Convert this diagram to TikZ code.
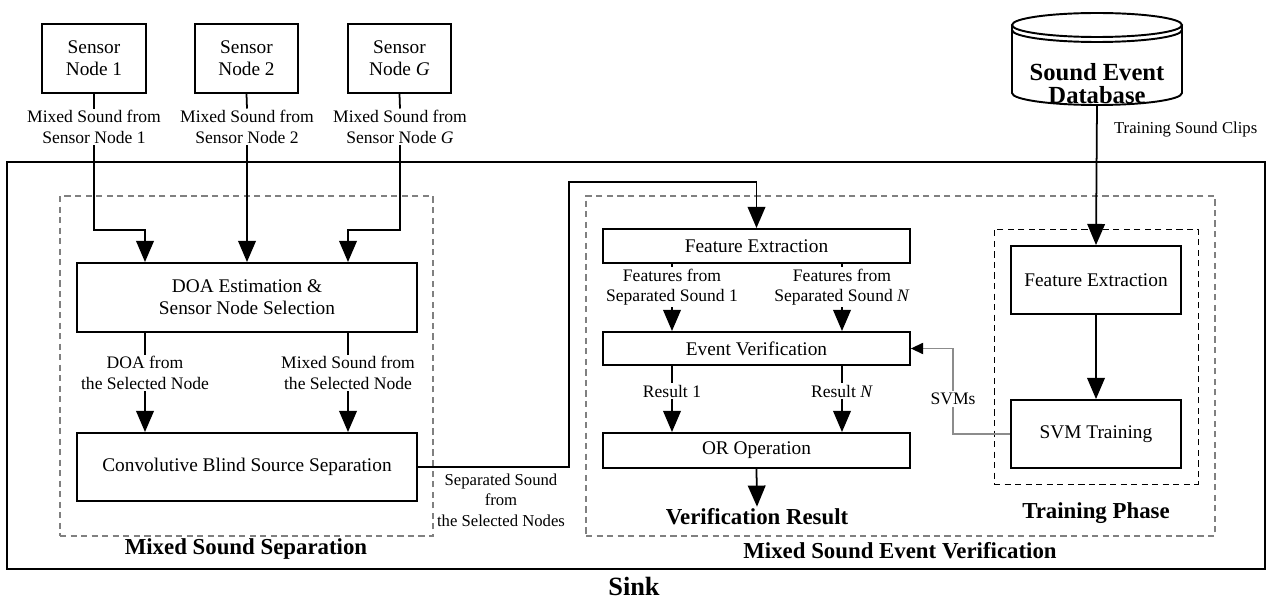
\documentclass[tikz,border=0pt]{standalone}
\usepackage{fontspec}
\setmainfont{Liberation Serif}
\usetikzlibrary{arrows.meta}

\definecolor{GroupGrey}{HTML}{808080}
\definecolor{LinkGrey}{HTML}{8c8c8c}

\newcommand{\blockfont}{\fontsize{11}{12.5}\selectfont}
\newcommand{\flowfont}{\fontsize{10}{11.5}\selectfont}
\newcommand{\titlefont}{\fontsize{13}{15}\selectfont\bfseries}

\tikzstyle{block}=[draw, line width=1.1pt, align=center, inner sep=0pt, font=\blockfont]
\tikzstyle{group-box}=[draw=GroupGrey, line width=0.8pt, dash pattern=on 3.5pt off 2.5pt, inner sep=0pt]
\tikzstyle{phase-box}=[draw, line width=0.5pt, dash pattern=on 3.5pt off 2.5pt, inner sep=0pt]
\tikzstyle{flow-label}=[align=center, inner sep=1pt, font=\flowfont]
\tikzstyle{group-title}=[inner sep=1pt, font=\titlefont]
\tikzstyle{wire}=[line width=1pt]
\tikzstyle{flow}=[line width=1pt, -{Triangle[length=12pt, width=10pt]}]
\tikzstyle{svm-flow}=[draw=LinkGrey, line width=0.6pt]

\begin{document}
\begin{tikzpicture}[x=0.02cm, y=-0.02cm]
      \useasboundingbox (0,0) rectangle (1269,601);

      % frames
      \node (sink) at (636, 365.5)
            [draw, line width=1.5pt, minimum width=25.16cm, minimum height=8.14cm] {};
      \node (group-sep) at (246.5, 366)
            [group-box, minimum width=7.46cm, minimum height=6.8cm] {};
      \node (group-ver) at (900.5, 366)
            [group-box, minimum width=12.58cm, minimum height=6.8cm] {};
      \node (group-train) at (1096, 356.5)
            [phase-box, minimum width=4.08cm, minimum height=5.1cm] {};

      \node (title-sink) at (634, 586) [group-title, font=\fontsize{15}{17}\selectfont\bfseries] {Sink};
      \node (title-sep) at (246, 549) [group-title] {Mixed Sound Separation};
      \node (title-ver) at (900, 551) [group-title] {Mixed Sound Event Verification};
      \node (title-train) at (1096, 513) [group-title] {Training Phase};
      \node (title-result) at (757, 517) [group-title] {Verification Result};

      % sensor nodes
      \node (sensor-1) at (94, 58.5)
            [block, minimum width=2.08cm, minimum height=1.38cm] {Sensor\\Node 1};
      \node (sensor-2) at (246.5, 58.5)
            [block, minimum width=2.06cm, minimum height=1.38cm] {Sensor\\Node 2};
      \node (sensor-G) at (399.5, 58.5)
            [block, minimum width=2.06cm, minimum height=1.38cm] {Sensor\\Node \textit{G}};

      \node (mix-1) at (94, 127) [flow-label] {Mixed Sound from\\Sensor Node 1};
      \node (mix-2) at (247, 127) [flow-label] {Mixed Sound from\\Sensor Node 2};
      \node (mix-G) at (400, 127) [flow-label] {Mixed Sound from\\Sensor Node \textit{G}};

      % sound event database
      \draw [line width=1.1pt] (1012, 25) -- (1012, 93)
            arc [start angle=180, end angle=360, x radius=1.7cm, y radius=0.24cm] -- (1182, 25);
      \draw [line width=1.1pt] (1097, 25) ellipse [x radius=1.7cm, y radius=0.24cm];
      \draw [line width=1.1pt] (1012, 30)
            arc [start angle=180, end angle=360, x radius=1.7cm, y radius=0.24cm];
      \node (db) at (1097, 84) [align=center, inner sep=0pt, font=\fontsize{14}{13}\selectfont\bfseries] {Sound Event\\Database};
      \coordinate (db-base) at (1097, 105);
      \node (clips) at (1112, 130) [flow-label, anchor=west, font=\fontsize{9.5}{11}\selectfont] {Training Sound Clips};

      % mixed sound separation
      \node (doa) at (247, 297.5)
            [block, minimum width=6.8cm, minimum height=1.38cm] {DOA Estimation \&\\Sensor Node Selection};
      \node (conv) at (247, 467)
            [block, minimum width=6.8cm, minimum height=1.36cm] {Convolutive Blind Source Separation};
      \node (sel-doa) at (145, 373) [flow-label] {DOA from\\the Selected Node};
      \node (sel-mix) at (348, 373) [flow-label] {Mixed Sound from\\the Selected Node};
      \node (sep-out) at (501, 500)
            [flow-label, font=\fontsize{9.5}{11.6}\selectfont] {Separated Sound\\from\\the Selected Nodes};

      % mixed sound event verification
      \node (fe-sep) at (756.5, 246)
            [block, minimum width=6.14cm, minimum height=0.68cm] {Feature Extraction};
      \node (ev) at (756.5, 348.5)
            [block, minimum width=6.14cm, minimum height=0.66cm] {Event Verification};
      \node (or) at (756.5, 450.5)
            [block, minimum width=6.14cm, minimum height=0.7cm] {OR Operation};
      \node (feat-1) at (672, 287) [flow-label] {Features from\\Separated Sound 1};
      \node (feat-N) at (842, 287) [flow-label] {Features from\\Separated Sound \textit{N}};
      \node (res-1) at (672, 391) [flow-label] {Result 1};
      \node (res-N) at (842, 391) [flow-label] {Result \textit{N}};

      % training phase
      \node (fe-train) at (1096, 280)
            [block, minimum width=3.4cm, minimum height=1.36cm] {Feature Extraction};
      \node (svm) at (1096, 434)
            [block, minimum width=3.4cm, minimum height=1.36cm] {SVM Training};
      \node (svms) at (953, 399) [flow-label] {SVMs};

      \coordinate (jog-1) at (145, 230);
      \coordinate (jog-G) at (348, 230);
      \coordinate (turn-a) at (569, 182);

      \draw [wire] (sensor-1.south) -- (mix-1.north);
      \draw [wire] (sensor-2.south) -- (mix-2.north);
      \draw [wire] (sensor-G.south) -- (mix-G.north);
      \draw [flow] (mix-1.south) |- (jog-1) -- (jog-1 |- doa.north);
      \draw [flow] (mix-2.south) -- (mix-2.south |- doa.north);
      \draw [flow] (mix-G.south) |- (jog-G) -- (jog-G |- doa.north);

      \draw [wire] (sel-doa.north |- doa.south) -- (sel-doa.north);
      \draw [wire] (sel-mix.north |- doa.south) -- (sel-mix.north);
      \draw [flow] (sel-doa.south) -- (sel-doa.south |- conv.north);
      \draw [flow] (sel-mix.south) -- (sel-mix.south |- conv.north);

      \draw [flow] (conv.east) -| (turn-a) -| (fe-sep.north);

      \draw [wire] (feat-1.north |- fe-sep.south) -- (feat-1.north);
      \draw [wire] (feat-N.north |- fe-sep.south) -- (feat-N.north);
      \draw [flow] (feat-1.south) -- (feat-1.south |- ev.north);
      \draw [flow] (feat-N.south) -- (feat-N.south |- ev.north);
      \draw [wire] (res-1.north |- ev.south) -- (res-1.north);
      \draw [wire] (res-N.north |- ev.south) -- (res-N.north);
      \draw [flow] (res-1.south) -- (res-1.south |- or.north);
      \draw [flow] (res-N.south) -- (res-N.south |- or.north);
      \draw [flow] (or.south) -- (title-result.north);

      \draw [flow] (db-base) -- (fe-train.north);
      \draw [flow] (fe-train.south) -- (svm.north);
      \draw [svm-flow] (svm.west) -| (svms.south);
      \draw [svm-flow, -{Triangle[length=7pt, width=6.5pt, color=black]}] (svms.north) |- (ev.east);
\end{tikzpicture}
\end{document}
